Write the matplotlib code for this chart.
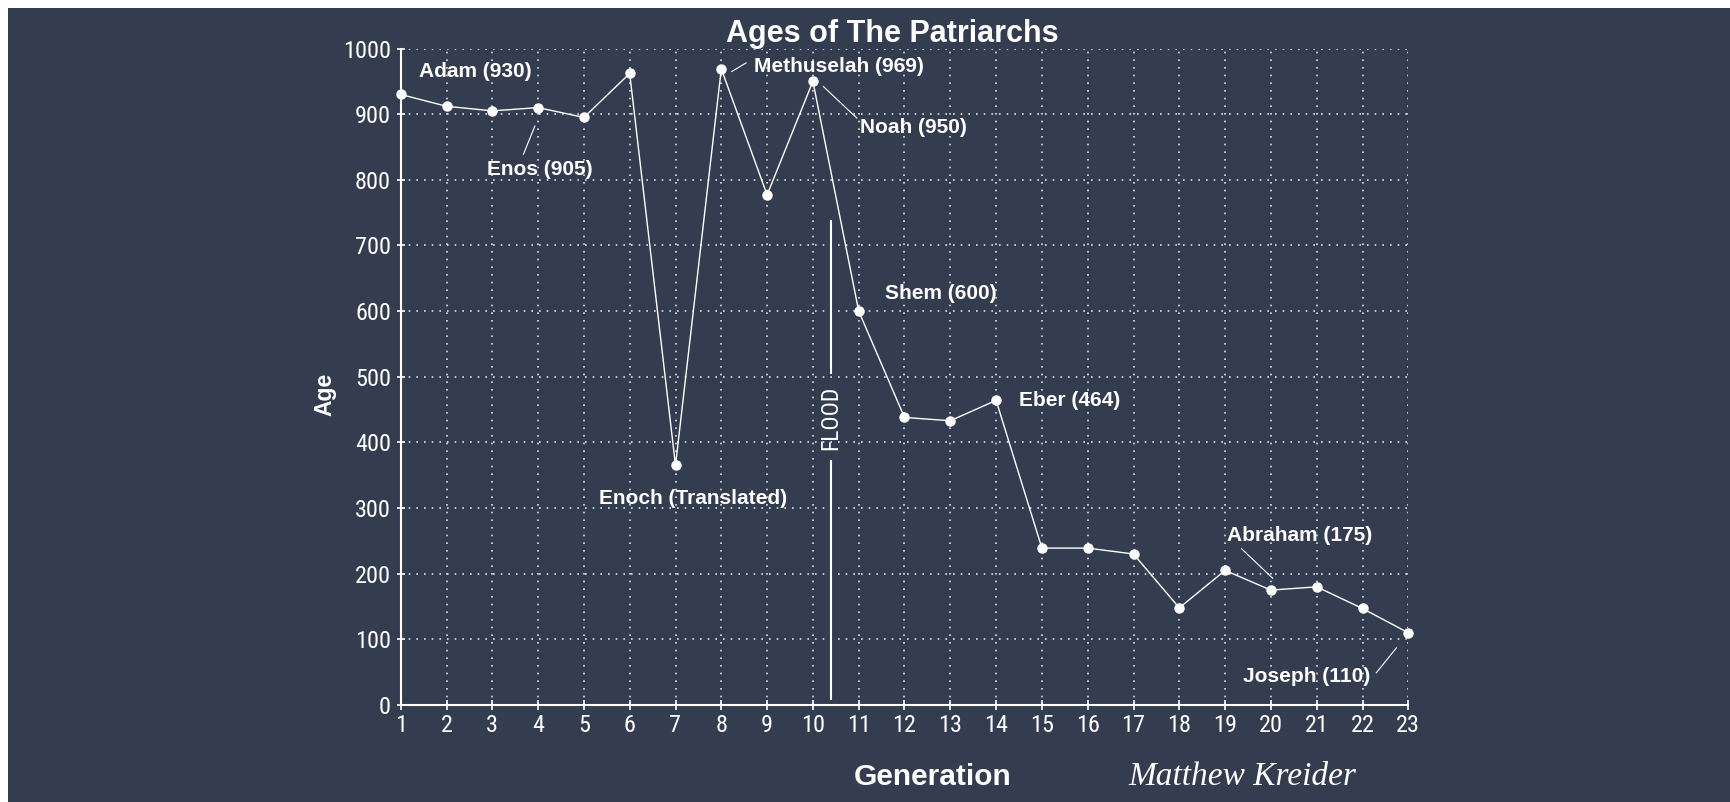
import matplotlib
matplotlib.use("Agg")
import matplotlib.pyplot as plt
from matplotlib import font_manager
from matplotlib.patches import Rectangle

# ---------------- data ----------------
generations = list(range(1, 24))
ages = [930, 912, 905, 910, 895, 962, 365, 969, 777, 950, 600, 438, 433, 464,
        239, 239, 230, 148, 205, 175, 180, 147, 110]
x_ticks = list(range(1, 24))
y_ticks = list(range(0, 1001, 100))

labels = ["Adam (930)", "Enos (905)", "Methuselah (969)", "Noah (950)",
          "Shem (600)", "Eber (464)", "Enoch (Translated)", "Abraham (175)",
          "Joseph (110)"]
label_xy = [(2.64, 965), (4.03, 815), (10.57, 972), (12.2, 880),
            (12.8, 627), (15.61, 464), (7.38, 314), (20.63, 258), (20.78, 43)]
# pointer lines (x0, y0, x1, y1) for some labels
pointer_lines = [(3.68, 839, 3.93, 882), (8.23, 965, 8.54, 978),
                 (10.23, 942, 10.96, 894), (19.36, 238, 20.04, 193),
                 (22.74, 87, 22.30, 49)]
flood_x = 10.4
flood_segments = [(9, 372), (506, 737)]
flood_label_y = 438

title = "Ages of The Patriarchs"
xlabel = "Generation"
ylabel = "Age"
signature = "Matthew Kreider"

# ---------------- style ----------------
BG = "#343d4f"
FG = "white"


def pick(fams):
    for f in fams:
        try:
            font_manager.findfont(font_manager.FontProperties(family=f),
                                  fallback_to_default=False)
            return f
        except Exception:
            pass
    return "DejaVu Sans"


NARROW = pick(["Liberation Sans Narrow", "Roboto Condensed", "Liberation Sans"])
SANS = pick(["Liberation Sans", "Arial", "DejaVu Sans"])

fig = plt.figure(figsize=(17.3, 8.02), dpi=100, facecolor="white")
W, H = 1730, 802
fig.patches.append(Rectangle((8 / W, 0), 1 - 8 / W, 1 - 8 / H,
                             transform=fig.transFigure, facecolor=BG,
                             edgecolor="none", zorder=-10))

ax = fig.add_axes([400.7 / W, 1 - 705 / H, (1408.3 - 400.7) / W, (705 - 48.5) / H])
ax.set_facecolor(BG)
ax.patch.set_alpha(0)
ax.set_xlim(1, 23)
ax.set_ylim(0, 1000)

for s in ["top", "right"]:
    ax.spines[s].set_visible(False)
for s in ["left", "bottom"]:
    ax.spines[s].set_color(FG)
    ax.spines[s].set_linewidth(1.5)

ax.set_xticks(x_ticks)
ax.set_yticks(y_ticks)
ax.tick_params(axis="both", colors=FG, direction="inout", width=1.2,
               labelsize=17.5)
ax.tick_params(axis="x", length=6.5, pad=3)
ax.tick_params(axis="y", length=6, pad=4)
for lab in ax.get_xticklabels() + ax.get_yticklabels():
    lab.set_fontfamily(NARROW)
    lab.set_color(FG)

ax.grid(True, color="#e0e0e0", linestyle=(0, (1, 3.6)), linewidth=1.2)
ax.set_axisbelow(True)

ax.plot(generations, ages, color=FG, linewidth=1.0, marker="o",
        markersize=6.5, markerfacecolor=FG, markeredgecolor=FG,
        clip_on=False, zorder=5)

for txt, (tx, ty) in zip(labels, label_xy):
    ax.text(tx, ty, txt, color=FG, fontsize=15, fontweight="bold",
            fontfamily=SANS, ha="center", va="center", zorder=6)

for (x0, y0, x1, y1) in pointer_lines:
    ax.plot([x0, x1], [y0, y1], color=FG, linewidth=0.8, zorder=4)

for (y0, y1) in flood_segments:
    ax.plot([flood_x, flood_x], [y0, y1], color=FG, linewidth=1.5, zorder=4)
ax.text(flood_x, flood_label_y, "FLOOD", rotation=90, color=FG, fontsize=17,
        fontfamily=NARROW, ha="center", va="center", zorder=6)

fig.text(892 / W, 1 - 34 / H, title, color=FG, fontsize=22, fontweight="bold",
         fontfamily=SANS, ha="center", va="center")
fig.text(933 / W, 1 - 777 / H, xlabel, color=FG, fontsize=21.5,
         fontweight="bold", fontfamily=SANS, ha="center", va="center")
fig.text(325 / W, 1 - 394 / H, ylabel, color=FG, fontsize=16.5,
         fontweight="bold", fontfamily=SANS, ha="center", va="center",
         rotation=90)
fig.text(1242 / W, 1 - 777 / H, signature, color=FG, fontsize=24,
         fontstyle="italic", fontfamily="Liberation Serif", ha="center",
         va="center")

fig.savefig("out.png", dpi=100, facecolor="white")
